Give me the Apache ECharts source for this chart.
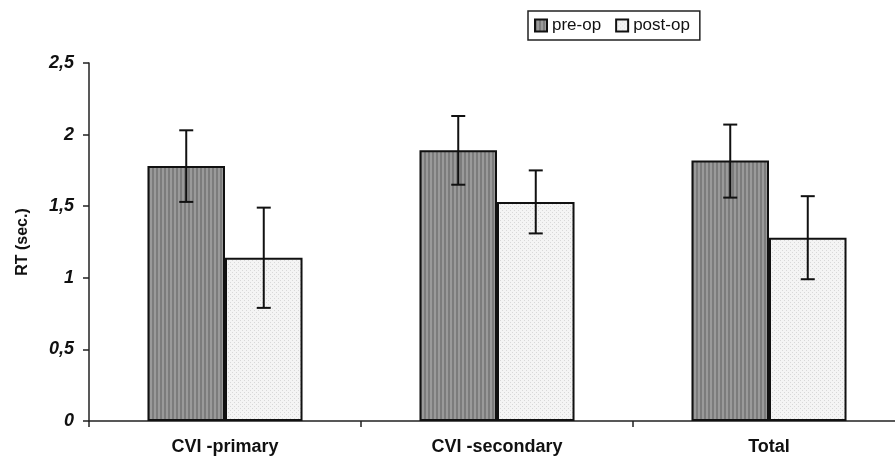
<!DOCTYPE html>
<html>
<head>
<meta charset="utf-8">
<script src="https://cdn.jsdelivr.net/npm/echarts@6/dist/echarts.min.js"></script>
<style>
  html, body { margin: 0; padding: 0; background: #fff; }
  #chart { width: 895px; height: 458px; }
</style>
</head>
<body>
<div id="chart"></div>
<script>
// data
const categories = ['CVI -primary', 'CVI -secondary', 'Total'];
const preOp = [1.78, 1.89, 1.82];
const postOp = [1.14, 1.53, 1.28];
const preOpErrLow = [1.53, 1.65, 1.56];
const preOpErrHigh = [2.03, 2.13, 2.07];
const postOpErrLow = [0.79, 1.31, 0.99];
const postOpErrHigh = [1.49, 1.75, 1.57];

// small textures to imitate the printed fills
function makePattern(kind) {
  const c = document.createElement('canvas');
  c.width = 4; c.height = 4;
  const ctx = c.getContext('2d');
  if (kind === 'stripes') {
    ctx.fillStyle = '#9a9a9a';
    ctx.fillRect(0, 0, 4, 4);
    ctx.fillStyle = '#7c7c7c';
    ctx.fillRect(0, 0, 2, 4);
  } else {
    ctx.fillStyle = '#f4f4f4';
    ctx.fillRect(0, 0, 4, 4);
    ctx.fillStyle = '#d8d8d8';
    ctx.fillRect(0, 0, 1, 1);
    ctx.fillRect(2, 2, 1, 1);
  }
  return c;
}

const CAT_GAP = 0.43;

function errorBar(sign) {
  return function (params, api) {
    const idx = api.value(0);
    const band = api.size([1, 0])[0];
    const barW = band * (1 - CAT_GAP) / 2;
    const lo = api.coord([idx, api.value(1)]);
    const hi = api.coord([idx, api.value(2)]);
    const x = lo[0] + sign * barW / 2;
    const cap = 7;
    const style = { stroke: '#111', lineWidth: 2 };
    return {
      type: 'group',
      children: [
        { type: 'line', shape: { x1: x, y1: lo[1], x2: x, y2: hi[1] }, style: style },
        { type: 'line', shape: { x1: x - cap, y1: hi[1], x2: x + cap, y2: hi[1] }, style: style },
        { type: 'line', shape: { x1: x - cap, y1: lo[1], x2: x + cap, y2: lo[1] }, style: style }
      ]
    };
  };
}

const chart = echarts.init(document.getElementById('chart'));

const option = {
  animation: false,
  textStyle: { fontFamily: 'Liberation Sans, Arial, sans-serif' },
  legend: {
    data: ['pre-op', 'post-op'],
    icon: 'rect',
    left: 528,
    top: 11,
    padding: [6, 10, 6, 6],
    itemGap: 14,
    itemWidth: 12,
    itemHeight: 12,
    borderColor: '#222',
    borderWidth: 1.5,
    textStyle: { fontSize: 17, color: '#111' }
  },
  grid: {
    left: 89,
    width: 816,
    top: 63,
    bottom: 37,
    containLabel: false,
    outerBoundsMode: 'none'
  },
  xAxis: {
    type: 'category',
    data: categories,
    axisLine: { lineStyle: { color: '#222', width: 1.5 } },
    axisTick: { show: true, length: 6, lineStyle: { color: '#222', width: 1.5 } },
    axisLabel: { fontSize: 18, fontWeight: 'bold', color: '#111', margin: 17 }
  },
  yAxis: {
    type: 'value',
    min: 0,
    max: 2.5,
    interval: 0.5,
    name: 'RT (sec.)',
    nameLocation: 'middle',
    nameGap: 58,
    nameTextStyle: { fontSize: 16, fontWeight: 'bold', color: '#111' },
    axisLine: { show: true, lineStyle: { color: '#222', width: 1.5 } },
    axisTick: { show: true, length: 6, lineStyle: { color: '#222', width: 1.5 } },
    splitLine: { show: false },
    axisLabel: {
      fontSize: 18,
      fontWeight: 'bold',
      fontStyle: 'italic',
      color: '#111',
      margin: 15,
      formatter: v => String(v).replace('.', ',')
    }
  },
  series: [
    {
      name: 'pre-op',
      type: 'bar',
      data: preOp,
      barGap: 0,
      barCategoryGap: (CAT_GAP * 100) + '%',
      itemStyle: {
        color: { image: makePattern('stripes'), repeat: 'repeat' },
        borderColor: '#111',
        borderWidth: 2
      }
    },
    {
      name: 'post-op',
      type: 'bar',
      data: postOp,
      barGap: 0,
      barCategoryGap: (CAT_GAP * 100) + '%',
      itemStyle: {
        color: { image: makePattern('dots'), repeat: 'repeat' },
        borderColor: '#111',
        borderWidth: 2
      }
    },
    {
      name: 'pre-op-err',
      type: 'custom',
      z: 10,
      renderItem: errorBar(-1),
      encode: { x: 0, y: [1, 2] },
      data: categories.map((c, i) => [i, preOpErrLow[i], preOpErrHigh[i]])
    },
    {
      name: 'post-op-err',
      type: 'custom',
      z: 10,
      renderItem: errorBar(1),
      encode: { x: 0, y: [1, 2] },
      data: categories.map((c, i) => [i, postOpErrLow[i], postOpErrHigh[i]])
    }
  ]
};

chart.setOption(option);
</script>
</body>
</html>
